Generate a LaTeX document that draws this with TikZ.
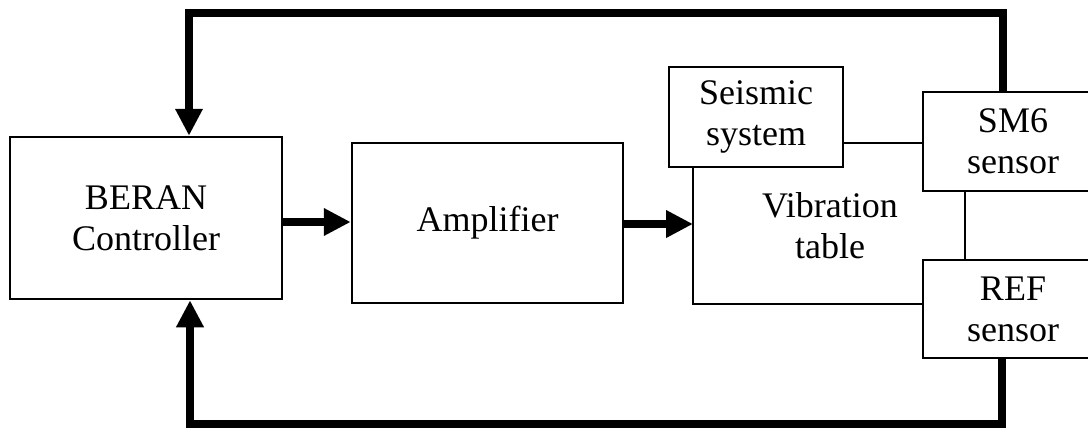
\documentclass[tikz,border=0pt]{standalone}
\usepackage{fontspec}
\setmainfont{Liberation Serif}
\usetikzlibrary{arrows.meta,calc}
\begin{document}
\begin{tikzpicture}[x=0.5pt,y=-0.5pt,
  blk/.style={draw,line width=1.25pt,inner sep=0pt,align=center,
    font=\fontsize{18}{20.5}\selectfont},
  thinline/.style={line width=1.25pt},
  fat/.style={line width=4pt,line join=miter},
  fatarrow/.style={fat,-{Triangle[length=13.5pt,width=13pt]}}]
\useasboundingbox (0,0) rectangle (1088,434);
% blocks
\node[blk,minimum width=136pt,minimum height=81pt] (beran) at (146,218) {BERAN\\Controller};
\node[blk,minimum width=135.5pt,minimum height=80pt] (amp) at (487.5,223) {Amplifier};
\node[blk,minimum width=87pt,minimum height=50pt] (seis) at (756,117) {Seismic\\system};
\node[blk,minimum width=90pt,minimum height=49.5pt] (sm6) at (1013,141.5) {SM6\\sensor};
\node[blk,minimum width=90pt,minimum height=49pt] (ref) at (1013,309) {REF\\sensor};
\node[align=center,inner sep=0pt,font=\fontsize{18}{20.5}\selectfont] (vib) at (830,226) {Vibration\\table};
% vibration table outline
\coordinate (vtl) at (693,224);
\draw[thinline] (seis.south -| vtl) -- (vtl |- 0,304) -- (ref.west |- 0,304);
\draw[thinline] (seis.east |- 0,143) -- (sm6.west |- 0,143);
\draw[thinline] (sm6.south -| 965,0) -- (ref.north -| 965,0);
% forward arrows
\draw[fatarrow] (beran.east |- 0,222) -- (amp.west |- 0,222);
\draw[fatarrow] (amp.east |- vtl) -- (vtl);
% feedback loops
\coordinate (t1) at (1003,13);
\coordinate (t2) at (189,13);
\draw[fatarrow] (t1 |- sm6.north) -- (t1) -- (t2) -- (t2 |- beran.north);
\coordinate (b1) at (1002,424);
\coordinate (b2) at (190,424);
\draw[fatarrow] (b1 |- ref.south) -- (b1) -- (b2) -- (b2 |- beran.south);
\end{tikzpicture}
\end{document}
